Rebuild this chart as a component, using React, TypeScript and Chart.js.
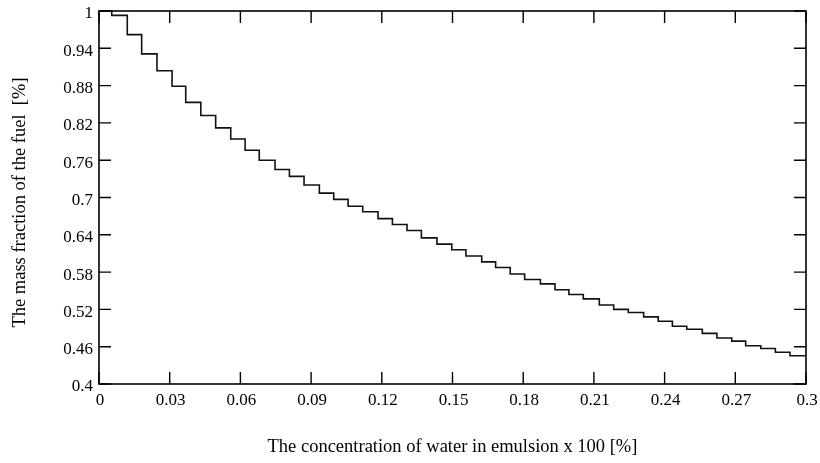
import React, { useEffect, useRef } from 'react';
import { Chart, registerables } from 'chart.js';

Chart.register(...registerables);

// Start of each constant step (concentration, fraction of 1)
const stepStarts = [
  0, 0.0054, 0.012, 0.0181, 0.0246, 0.031, 0.0368, 0.0432, 0.0495, 0.0559,
  0.062, 0.068, 0.0747, 0.0808, 0.087, 0.0935, 0.0996, 0.1057, 0.1119, 0.1184,
  0.1245, 0.1307, 0.1368, 0.1434, 0.1497, 0.1557, 0.1624, 0.1683, 0.1745, 0.1806,
  0.1873, 0.1935, 0.1994, 0.2055, 0.2123, 0.2184, 0.2246, 0.2311, 0.2373, 0.2433,
  0.2494, 0.256, 0.2622, 0.2685, 0.2744, 0.2808, 0.287, 0.2932,
];
// Mass fraction of the fuel on each step
const massFraction = [
  1.0, 0.993, 0.962, 0.931, 0.904, 0.879, 0.853, 0.832, 0.812, 0.794,
  0.776, 0.76, 0.745, 0.734, 0.72, 0.707, 0.697, 0.686, 0.677, 0.666,
  0.6565, 0.647, 0.635, 0.625, 0.616, 0.606, 0.5965, 0.5875, 0.577, 0.568,
  0.561, 0.5515, 0.544, 0.537, 0.527, 0.52, 0.515, 0.508, 0.501, 0.493,
  0.488, 0.4815, 0.474, 0.469, 0.4615, 0.457, 0.451, 0.4455,
];
const xMin = 0;
const xMax = 0.3;
const xTickStep = 0.03;
const yMin = 0.4;
const yMax = 1;
const yTickStep = 0.06;
const xTitle = 'The concentration of water in emulsion x 100 [%]';
const yTitle = 'The mass fraction of the fuel  [%]';

const FONT = "'Liberation Serif', 'Times New Roman', serif";

const fmt = (v: number | string) => String(parseFloat(Number(v).toFixed(3)));

const frameTicks = {
  id: 'frameTicks',
  afterDatasetsDraw(chart: any) {
    const { ctx, chartArea, scales } = chart;
    const { left, right, top, bottom } = chartArea;
    const x = scales.x;
    const y = scales.y;
    const L = 12;
    ctx.save();
    ctx.strokeStyle = '#000';
    ctx.lineWidth = 1.6;
    ctx.strokeRect(left, top, right - left, bottom - top);
    ctx.lineWidth = 1.4;
    ctx.beginPath();
    x.ticks.forEach((t: any) => {
      const px = x.getPixelForValue(t.value);
      ctx.moveTo(px, bottom);
      ctx.lineTo(px, bottom - L);
      ctx.moveTo(px, top);
      ctx.lineTo(px, top + L);
    });
    y.ticks.forEach((t: any) => {
      const py = y.getPixelForValue(t.value);
      ctx.moveTo(left, py);
      ctx.lineTo(left + L, py);
      ctx.moveTo(right, py);
      ctx.lineTo(right - L, py);
    });
    ctx.stroke();
    // y-axis title
    ctx.translate(20, (top + bottom) / 2 + 5);
    ctx.rotate(-Math.PI / 2);
    ctx.fillStyle = '#000';
    ctx.font = `18.5px ${FONT}`;
    ctx.textAlign = 'center';
    ctx.textBaseline = 'middle';
    ctx.fillText(yTitle, 0, 0);
    ctx.restore();
  },
};

export default function App() {
  const canvasRef = useRef<HTMLCanvasElement | null>(null);

  useEffect(() => {
    document.body.style.margin = '0';
    const canvas = canvasRef.current;
    if (!canvas) return;
    const points = stepStarts.map((sx, i) => ({ x: sx, y: massFraction[i] }));
    points.push({ x: xMax, y: massFraction[massFraction.length - 1] });

    const chart = new Chart(canvas, {
      type: 'line',
      data: {
        datasets: [
          {
            data: points,
            stepped: true,
            borderColor: '#111',
            borderWidth: 1.6,
            pointRadius: 0,
            fill: false,
            clip: false as any,
          },
        ],
      },
      options: {
        responsive: false,
        animation: false,
        events: [],
        layout: { padding: { top: 11, right: 14, left: 0, bottom: 0 } },
        plugins: {
          legend: { display: false },
          tooltip: { enabled: false },
        },
        scales: {
          x: {
            type: 'linear',
            min: xMin,
            max: xMax,
            grid: { display: false, drawTicks: false, tickLength: 0 },
            border: { display: false },
            ticks: {
              stepSize: xTickStep,
              color: '#000',
              font: { family: FONT, size: 17 },
              padding: 6,
              labelOffset: 1,
              maxRotation: 0,
              autoSkip: false,
              callback: (v: any) => fmt(v),
            },
            title: {
              display: true,
              text: xTitle,
              color: '#000',
              font: { family: FONT, size: 18.5 },
              padding: { top: 0, bottom: 5 },
            },
            afterFit: (s: any) => {
              s.height = 79;
              s.paddingLeft = 0;
              s.paddingRight = 0;
            },
          },
          y: {
            type: 'linear',
            min: yMin,
            max: yMax,
            grid: { display: false, drawTicks: false, tickLength: 0 },
            border: { display: false },
            ticks: {
              stepSize: yTickStep,
              color: '#000',
              font: { family: FONT, size: 17 },
              padding: 6,
              labelOffset: 3,
              autoSkip: false,
              callback: (v: any) => fmt(v),
            },
            title: { display: false },
            afterFit: (s: any) => {
              s.width = 99;
              s.paddingTop = 0;
              s.paddingBottom = 0;
            },
          },
        },
      },
      plugins: [frameTicks],
    });
    return () => chart.destroy();
  }, []);

  return (
    <div style={{ width: 820, height: 463, background: '#fff' }}>
      <canvas ref={canvasRef} width={820} height={463} />
    </div>
  );
}
